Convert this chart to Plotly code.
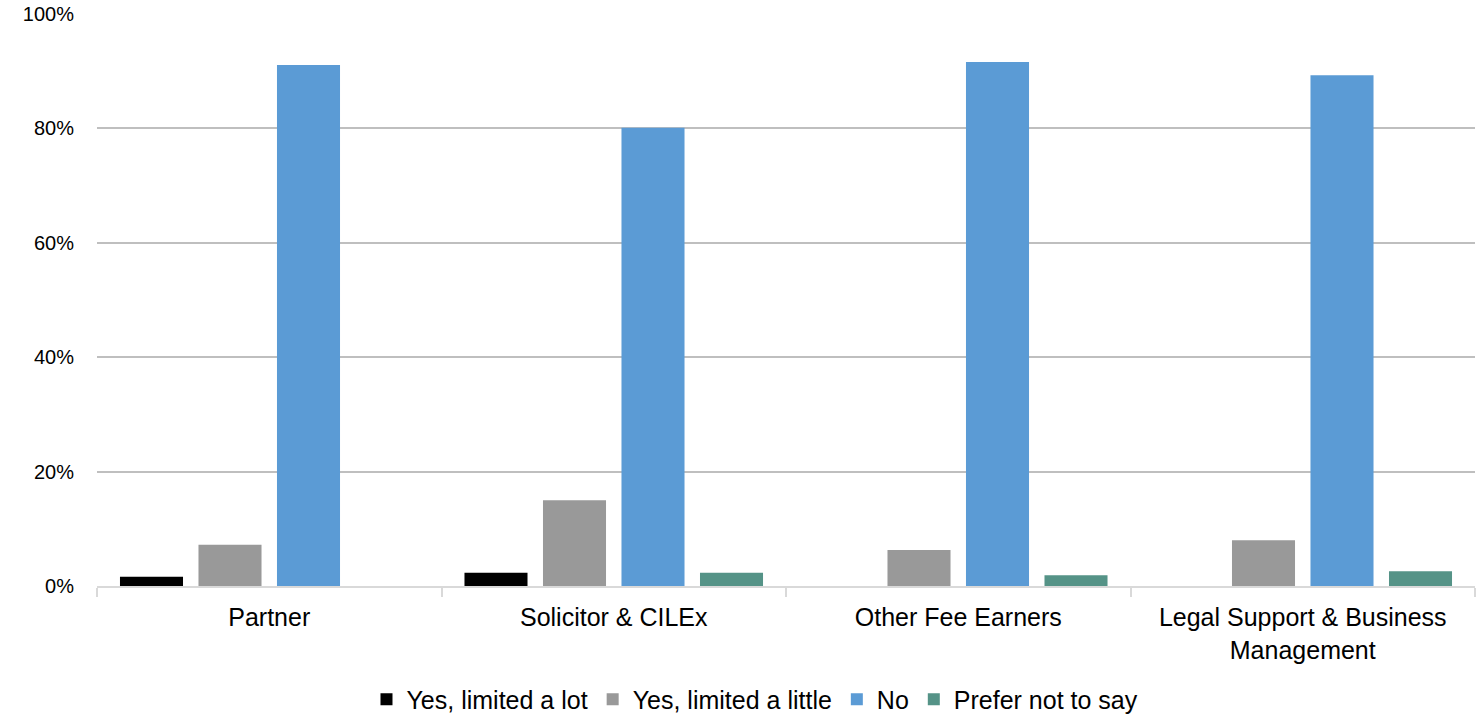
import plotly.graph_objects as go

categories = ["Partner", "Solicitor & CILEx", "Other Fee Earners", "Legal Support & Business<br>Management"]
series_names = ["Yes, limited a lot", "Yes, limited a little", "No", "Prefer not to say"]
limited_lot = [1.6, 2.3, None, None]
limited_little = [7.2, 15.0, 6.3, 8.0]
no_vals = [91.1, 80.1, 91.6, 89.3]
prefer_not = [None, 2.3, 1.9, 2.6]
colors = ["#000000", "#999999", "#5b9bd5", "#559387"]
y_ticks = [0, 20, 40, 60, 80, 100]
y_tick_labels = ["0%", "20%", "40%", "60%", "80%", "100%"]

fig = go.Figure()
for name, vals, col in zip(series_names, [limited_lot, limited_little, no_vals, prefer_not], colors):
    fig.add_trace(go.Bar(name=name, x=categories, y=vals, marker=dict(color=col, line=dict(width=0))))

fig.update_layout(
    width=1480, height=719,
    margin=dict(l=97, r=5, t=14, b=133, autoexpand=False),
    paper_bgcolor="white", plot_bgcolor="white",
    barmode="group", bargap=0.0885, bargroupgap=0.197,
    font=dict(family="Liberation Sans, Arial, sans-serif", size=20, color="#000000"),
    showlegend=True,
    legend=dict(orientation="h", x=0.4775, xanchor="center", y=-0.158, yanchor="top",
                font=dict(size=25), itemwidth=30, traceorder="normal"),
)
fig.update_xaxes(
    automargin=False,
    showline=True, linecolor="#d9d9d9", linewidth=2,
    ticks="outside", tickson="boundaries", ticklen=9, tickcolor="#d9d9d9", tickwidth=2,
    showgrid=False, tickfont=dict(size=25), ticklabelstandoff=8, fixedrange=True,
)
fig.update_yaxes(
    automargin=False,
    range=[0, 100], tickvals=y_ticks, ticktext=y_tick_labels,
    showgrid=True, gridcolor="#bfbfbf", gridwidth=1.5, zeroline=False,
    showline=False, ticks="", ticklabelstandoff=22, tickfont=dict(size=20),
)
fig.write_html("out.html", config={"displayModeBar": False},
               post_script="document.body.style.margin='0';document.body.style.padding='0';")
